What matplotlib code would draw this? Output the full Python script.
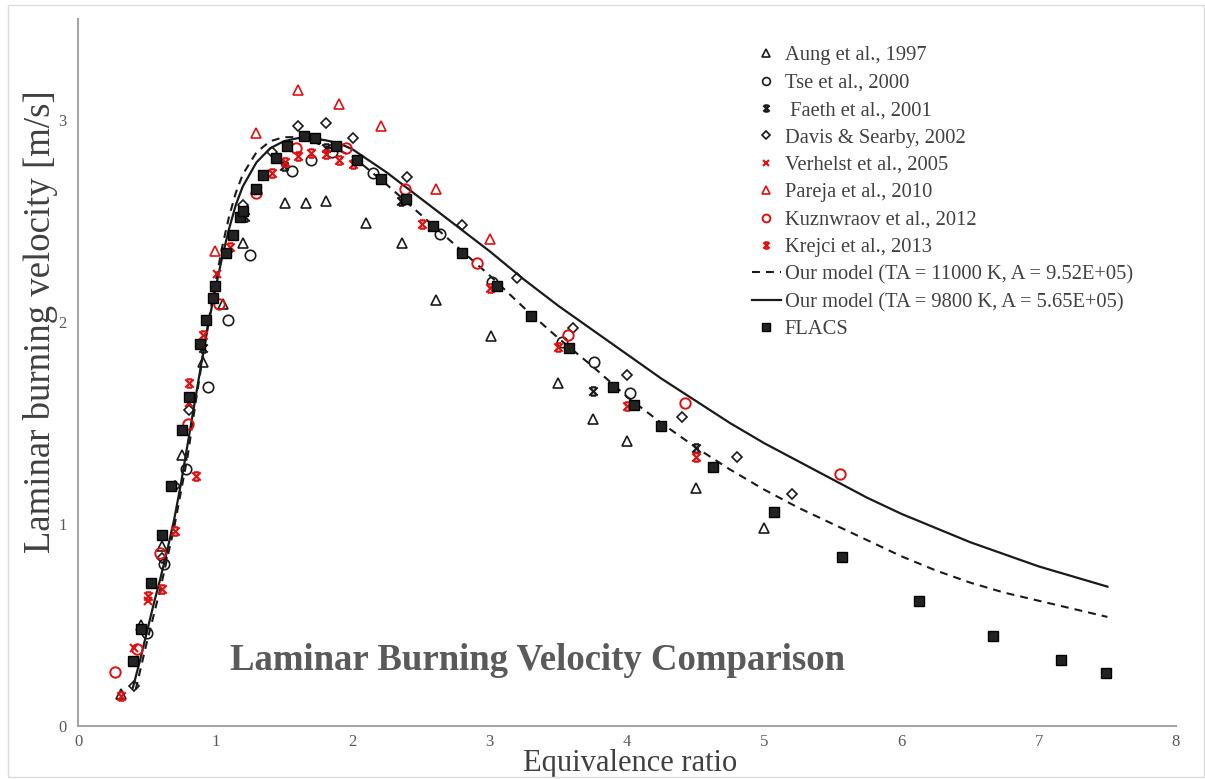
import matplotlib
matplotlib.use("Agg")
import matplotlib.pyplot as plt
from matplotlib.path import Path
from matplotlib.patches import Rectangle

# ---- measured laminar burning velocities (equivalence ratio, m/s) ----
aung_x = [0.31, 0.46, 0.61, 0.76, 0.91, 1.06, 1.20, 1.51, 1.66, 1.81, 2.10, 2.36, 2.61, 3.01, 3.50, 3.75, 4.00, 4.50, 5.00]
aung_y = [0.16, 0.50, 0.89, 1.34, 1.80, 2.09, 2.39, 2.59, 2.59, 2.60, 2.49, 2.39, 2.11, 1.93, 1.70, 1.52, 1.41, 1.18, 0.98]

tse_x = [0.50, 0.63, 0.79, 0.95, 1.09, 1.25, 1.56, 1.70, 1.85, 2.15, 2.64, 3.02, 3.53, 3.76, 4.02]
tse_y = [0.46, 0.80, 1.27, 1.68, 2.01, 2.33, 2.75, 2.80, 2.84, 2.74, 2.435, 2.20, 1.90, 1.80, 1.65]

faeth_x = [0.91, 1.22, 1.50, 1.81, 2.35, 3.75, 4.50]
faeth_y = [1.87, 2.52, 2.77, 2.86, 2.60, 1.66, 1.375]

davis_x = [0.41, 0.61, 0.71, 0.81, 1.20, 1.41, 1.60, 1.81, 2.00, 2.40, 2.80, 3.20, 3.61, 4.00, 4.40, 4.80, 5.20]
davis_y = [0.20, 0.83, 1.19, 1.565, 2.58, 2.84, 2.97, 2.985, 2.91, 2.72, 2.48, 2.22, 1.97, 1.74, 1.53, 1.33, 1.15]

verhelst_x = [0.41, 0.51, 0.81, 1.01, 1.31]
verhelst_y = [0.385, 0.62, 1.60, 2.24, 2.65]

pareja_x = [1.00, 1.30, 1.60, 1.90, 2.21, 2.61, 3.00]
pareja_y = [2.35, 2.935, 3.15, 3.08, 2.97, 2.66, 2.41]

kuz_x = [0.27, 0.43, 0.60, 0.80, 1.03, 1.30, 1.59, 1.95, 2.38, 2.91, 3.57, 4.42, 5.55]
kuz_y = [0.267, 0.38, 0.855, 1.495, 2.09, 2.64, 2.86, 2.86, 2.66, 2.29, 1.935, 1.60, 1.25]

krejci_x = [0.31, 0.51, 0.61, 0.71, 0.81, 0.86, 0.91, 1.11, 1.41, 1.51, 1.60, 1.70, 1.81, 1.90, 2.00, 2.51, 3.00, 3.50, 4.00, 4.50]
krejci_y = [0.15, 0.645, 0.68, 0.965, 1.70, 1.24, 1.935, 2.37, 2.74, 2.79, 2.82, 2.835, 2.83, 2.80, 2.78, 2.485, 2.17, 1.875, 1.585, 1.33]

# ---- model predictions ----
m1_x = [0.42, 0.50, 0.60, 0.70, 0.80, 0.85, 0.90, 0.95, 1.00, 1.05, 1.10, 1.15, 1.20, 1.30, 1.40, 1.50, 1.60,
        1.70, 1.80, 1.90, 2.00, 2.25, 2.50, 2.75, 3.00, 3.25, 3.50, 3.75, 4.00, 4.25, 4.50, 4.75, 5.00, 5.25,
        5.50, 5.75, 6.00, 6.25, 6.50, 6.75, 7.00, 7.25, 7.50]
m1_y = [0.18, 0.41, 0.68, 0.98, 1.34, 1.57, 1.79, 2.00, 2.19, 2.37, 2.52, 2.64, 2.73, 2.84, 2.895, 2.915, 2.915,
        2.895, 2.87, 2.85, 2.82, 2.68, 2.53, 2.38, 2.23, 2.07, 1.92, 1.78, 1.63, 1.50, 1.38, 1.27, 1.17, 1.08,
        1.00, 0.92, 0.84, 0.77, 0.71, 0.66, 0.62, 0.58, 0.54]

m2_x = [0.40, 0.45, 0.50, 0.55, 0.60, 0.65, 0.70, 0.75, 0.80, 0.85, 0.90, 0.95, 1.00, 1.05, 1.10, 1.15, 1.20,
        1.30, 1.40, 1.50, 1.60, 1.70, 1.80, 1.90, 2.00, 2.25, 2.50, 2.75, 3.00, 3.25, 3.50, 3.75, 4.00, 4.25,
        4.50, 4.75, 5.00, 5.25, 5.50, 5.75, 6.00, 6.25, 6.50, 6.75, 7.00, 7.25, 7.50]
m2_y = [0.19, 0.32, 0.46, 0.60, 0.73, 0.87, 1.02, 1.20, 1.40, 1.60, 1.80, 1.99, 2.16, 2.32, 2.46, 2.58, 2.67,
        2.79, 2.86, 2.895, 2.91, 2.91, 2.90, 2.885, 2.855, 2.74, 2.61, 2.48, 2.35, 2.21, 2.08, 1.96, 1.84, 1.72,
        1.61, 1.50, 1.40, 1.31, 1.22, 1.13, 1.05, 0.98, 0.91, 0.85, 0.79, 0.74, 0.69]

flacs_x = [0.40, 0.46, 0.53, 0.61, 0.68, 0.76, 0.81, 0.89, 0.93, 0.98, 1.00, 1.08, 1.13, 1.18, 1.20, 1.30, 1.35,
           1.44, 1.52, 1.65, 1.73, 1.88, 2.03, 2.21, 2.39, 2.59, 2.80, 3.05, 3.30, 3.58, 3.90, 4.05, 4.25, 4.63,
           5.07, 5.57, 6.13, 6.67, 7.16, 7.49]
flacs_y = [0.32, 0.48, 0.71, 0.945, 1.19, 1.465, 1.63, 1.89, 2.01, 2.12, 2.18, 2.34, 2.43, 2.52, 2.55, 2.66, 2.73,
           2.81, 2.87, 2.92, 2.91, 2.87, 2.80, 2.71, 2.61, 2.475, 2.34, 2.18, 2.03, 1.87, 1.68, 1.59, 1.485, 1.28,
           1.06, 0.837, 0.62, 0.446, 0.327, 0.262]

x_ticks = [0, 1, 2, 3, 4, 5, 6, 7, 8]
y_ticks = [0, 1, 2, 3]

BLACK = "#1a1a1a"
RED = "#e01010"
GRAY_TXT = "#595959"
SERIF = ["Liberation Serif", "DejaVu Serif"]

# star marker: an X closed by short bars at top and bottom
star = Path([(-1, -1), (1, 1), (-1, 1), (1, -1), (-0.6, 1), (0.6, 1), (-0.6, -1), (0.6, -1)],
            [Path.MOVETO, Path.LINETO, Path.MOVETO, Path.LINETO,
             Path.MOVETO, Path.LINETO, Path.MOVETO, Path.LINETO])

plt.rcParams["font.family"] = SERIF

fig = plt.figure(figsize=(12.05, 7.79), dpi=100)
ax = fig.add_axes([78 / 1205, 1 - 726 / 779, 1098 / 1205, 707 / 779])

def scatter(x, y, marker, color, label, ms=7.5, filled=False, mew=1.2):
    ax.plot(x, y, linestyle="none", marker=marker, markersize=ms,
            markerfacecolor=color if filled else "none", markeredgecolor=color,
            markeredgewidth=mew, label=label, zorder=3)

scatter(aung_x, aung_y, "^", BLACK, "Aung et al., 1997", ms=7.5)
scatter(tse_x, tse_y, "o", BLACK, "Tse et al., 2000", ms=7.5)
scatter(faeth_x, faeth_y, star, BLACK, " Faeth et al., 2001", ms=6, mew=1.6)
scatter(davis_x, davis_y, "D", BLACK, "Davis & Searby, 2002", ms=5.5)
scatter(verhelst_x, verhelst_y, "x", RED, "Verhelst et al., 2005", ms=6, mew=1.5)
scatter(pareja_x, pareja_y, "^", RED, "Pareja et al., 2010", ms=7.5)
scatter(kuz_x, kuz_y, "o", RED, "Kuznwraov et al., 2012", ms=7.5, mew=1.4)
scatter(krejci_x, krejci_y, star, RED, "Krejci et al., 2013", ms=6, mew=1.6)

ax.plot(m1_x, m1_y, color=BLACK, lw=1.5, linestyle=(0, (3.8, 2.9)),
        label="Our model (TA = 11000 K, A = 9.52E+05)", zorder=2)
ax.plot(m2_x, m2_y, color=BLACK, lw=1.6, linestyle="-",
        label="Our model (TA = 9800 K, A = 5.65E+05)", zorder=2)
ax.plot(flacs_x, flacs_y, linestyle="none", marker="s", markersize=7.5,
        markerfacecolor="#222222", markeredgecolor="#000000", markeredgewidth=1.0,
        label="FLACS", zorder=4)

ax.set_xlim(0, 8)
ax.set_ylim(0, 3.5)
ax.set_xticks(x_ticks)
ax.set_yticks(y_ticks)
ax.tick_params(axis="both", length=0, labelsize=12, labelcolor=GRAY_TXT, pad=8)
ax.tick_params(axis="x", pad=6)
for side in ("top", "right"):
    ax.spines[side].set_visible(False)
for side in ("left", "bottom"):
    ax.spines[side].set_color("#a6a6a6")
    ax.spines[side].set_linewidth(1.5)

ax.set_xlabel("Equivalence ratio", fontsize=22, color="#404040", va="baseline")
ax.xaxis.set_label_coords((630 - 78) / 1098, -(771 - 726) / 707)
ax.set_ylabel("Laminar burning velocity [m/s]", fontsize=26.5, color="#404040", va="center")
ax.yaxis.set_label_coords(-(78 - 40) / 1098, (726 - 322) / 707)

ax.text(1.11, 0.325, "Laminar Burning Velocity Comparison", fontsize=26.5, fontweight="bold",
        color="#5a5a5a", ha="left", va="center")

leg = ax.legend(loc="upper left", bbox_to_anchor=(752 / 1205, 1 - 46 / 779),
                bbox_transform=fig.transFigure, frameon=False, fontsize=14.8,
                handlelength=1.4, handletextpad=0.2, labelspacing=0.39,
                borderpad=0, borderaxespad=0, markerscale=0.75)
for t in leg.get_texts():
    t.set_color("#404040")

fig.patches.append(Rectangle((8 / 1205, 2 / 779), 1196 / 1205, 772 / 779,
                             transform=fig.transFigure, fill=False,
                             edgecolor="#dcdcdc", linewidth=1.0))

fig.savefig("out.png", dpi=100, facecolor="white")
